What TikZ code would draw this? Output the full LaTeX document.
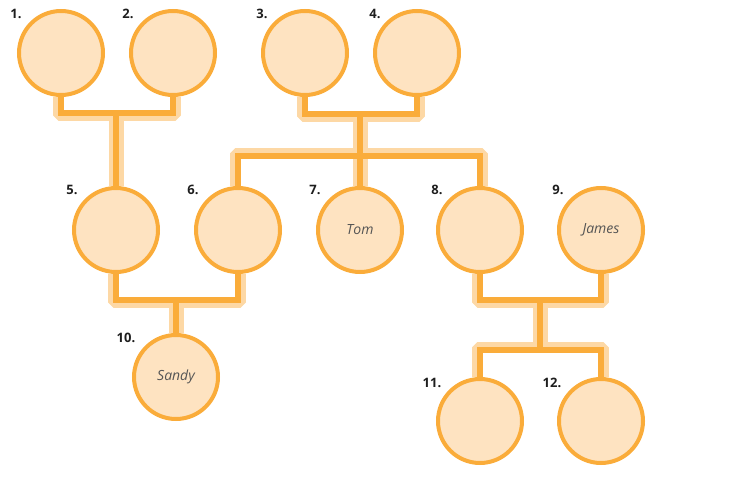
\documentclass[tikz,border=0pt]{standalone}
\usepackage{fontspec}
\setmainfont{Open Sans}
\definecolor{ringorange}{RGB}{250,172,58}
\definecolor{peach}{RGB}{254,227,193}
\definecolor{bandorange}{RGB}{253,216,165}
\definecolor{numgray}{RGB}{30,30,30}
\definecolor{namegray}{RGB}{85,85,85}
\pgfdeclarelayer{background}
\pgfsetlayers{background,main}

\begin{document}
\begin{tikzpicture}[x=1pt,y=-1pt]
\tikzstyle{person}=[circle, draw=ringorange, fill=peach, line width=4pt, minimum size=84pt, inner sep=0pt, font=\itshape\fontsize{14}{16}\selectfont, text=namegray]
\tikzstyle{num}=[font=\bfseries\fontsize{13}{15}\selectfont, text=numgray, inner sep=0pt]
\tikzstyle{band}=[bandorange, line width=11pt, line join=bevel]
\tikzstyle{stem}=[bandorange, line width=15pt]
\tikzstyle{link}=[ringorange, line width=6pt, line join=miter]
\useasboundingbox (0,0) rectangle (746,484);
\node [person] (p1) at (61,53) {};
\node [person] (p2) at (173,53) {};
\node [person] (p3) at (305,53) {};
\node [person] (p4) at (417,53) {};
\node [person] (p5) at (116,230) {};
\node [person] (p6) at (238,230) {};
\node [person] (p7) at (360,230) {Tom};
\node [person] (p8) at (480,230) {};
\node [person] (p9) at (601,230) {James};
\node [person] (p10) at (176,377) {Sandy};
\node [person] (p11) at (480,421) {};
\node [person] (p12) at (601,421) {};
\node [num] (n1) at (16,14) {1.};
\node [num] (n2) at (128,14) {2.};
\node [num] (n3) at (262,14) {3.};
\node [num] (n4) at (375,14) {4.};
\node [num] (n5) at (72,190) {5.};
\node [num] (n6) at (193,190) {6.};
\node [num] (n7) at (315,190) {7.};
\node [num] (n8) at (437,190) {8.};
\node [num] (n9) at (558,190) {9.};
\node [num] (n10) at (126,338) {10.};
\node [num] (n11) at (432,383) {11.};
\node [num] (n12) at (552,383) {12.};
\coordinate (j12) at (116,113);
\coordinate (j34) at (360,114);
\coordinate (k34) at (360,156);
\coordinate (j56) at (176,300);
\coordinate (j89) at (540,300);
\coordinate (k89) at (540,350);
\begin{pgfonlayer}{background}
% pale bands
\draw [band] ([xshift=-2.5pt]p1.south) |- ([yshift=-2.5pt]j12) -| ([xshift=2.5pt]p2.south);
\draw [band] ([xshift=-2.5pt]p3.south) |- ([yshift=-2.5pt]j34) -| ([xshift=2.5pt]p4.south);
\draw [band] ([xshift=-2.5pt]p6.north) |- ([yshift=2.5pt]k34) -| ([xshift=2.5pt]p8.north);
\draw [band] ([xshift=-2.5pt]p5.south) |- ([yshift=-2.5pt]j56) -| ([xshift=2.5pt]p6.south);
\draw [band] ([xshift=-2.5pt]p8.south) |- ([yshift=-2.5pt]j89) -| ([xshift=2.5pt]p9.south);
\draw [band] ([xshift=-2.5pt]p11.north) |- ([yshift=2.5pt]k89) -| ([xshift=2.5pt]p12.north);
\draw [stem] (j12) -- (p5.north);
\draw [stem] (j34) -- (p7.north);
\draw [stem] (j56) -- (p10.north);
\draw [stem] (j89) -- (k89);
% orange lines
\draw [link] (p1.south) |- (j12) -| (p2.south);
\draw [link] (p3.south) |- (j34) -| (p4.south);
\draw [link] (p6.north) |- (k34) -| (p8.north);
\draw [link] (p5.south) |- (j56) -| (p6.south);
\draw [link] (p8.south) |- (j89) -| (p9.south);
\draw [link] (p11.north) |- (k89) -| (p12.north);
\draw [link] (j12) -- (p5.north);
\draw [link] (j34) -- (p7.north);
\draw [link] (j56) -- (p10.north);
\draw [link] (j89) -- (k89);
\end{pgfonlayer}
\end{tikzpicture}
\end{document}
